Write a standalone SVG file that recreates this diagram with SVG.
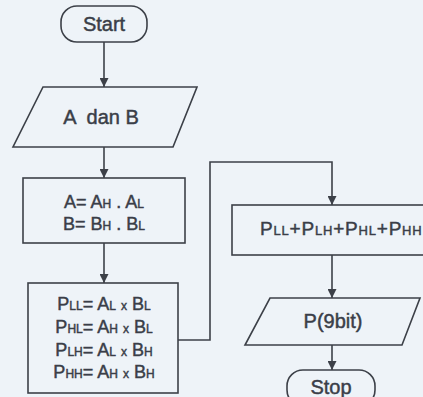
<svg xmlns="http://www.w3.org/2000/svg" width="423" height="397" viewBox="0 0 423 397">
<style>
.s{fill:none;stroke:#3c4048;stroke-width:1.6}
.t{font-family:"Liberation Sans",Arial,sans-serif;fill:#3a3e48;stroke:#3a3e48;stroke-width:0.45}
.c{stroke:#3c4048;stroke-width:1.6;fill:none}
.sub{font-size:12px}
</style>
<defs>
<marker id="ah" viewBox="0 0 10 10" refX="10" refY="5" markerWidth="9" markerHeight="9" markerUnits="userSpaceOnUse" orient="auto">
<path d="M0,0 L10,5 L0,10 Z" fill="#3c4048"/>
</marker>
</defs>
<rect width="423" height="397" fill="#eef3f8"/>
<g id="connectors">
<line class="c" x1="104" y1="42" x2="104" y2="87" marker-end="url(#ah)"/>
<line class="c" x1="104" y1="147" x2="104" y2="178" marker-end="url(#ah)"/>
<line class="c" x1="104" y1="243" x2="104" y2="283" marker-end="url(#ah)"/>
<polyline class="c" points="178,340 210,340 210,162 332,162 332,205" marker-end="url(#ah)"/>
<line class="c" x1="332" y1="255" x2="332" y2="298" marker-end="url(#ah)"/>
<line class="c" x1="332" y1="345" x2="332" y2="370" marker-end="url(#ah)"/>
</g>
<g id="start">
<rect class="s" x="61" y="6" width="86" height="36" rx="16"/>
<text class="t" x="104" y="31" font-size="20" text-anchor="middle">Start</text>
</g>
<g id="input">
<polygon class="s" points="43,87 197,87 173,147 13,147"/>
<text class="t" x="101" y="124" font-size="20" text-anchor="middle" xml:space="preserve">A  dan B</text>
</g>
<g id="split">
<rect class="s" x="23" y="178" width="162" height="65"/>
<text class="t" x="104" y="208" font-size="18" text-anchor="middle">A= A<tspan class="sub">H</tspan> . A<tspan class="sub">L</tspan></text>
<text class="t" x="104" y="230" font-size="18" text-anchor="middle">B= B<tspan class="sub">H</tspan> . B<tspan class="sub">L</tspan></text>
</g>
<g id="products">
<rect class="s" x="28" y="283" width="150" height="110"/>
<text class="t" x="104" y="310" font-size="18" text-anchor="middle">P<tspan class="sub">LL</tspan>= A<tspan class="sub">L</tspan> <tspan class="sub">x</tspan> B<tspan class="sub">L</tspan></text>
<text class="t" x="104" y="333" font-size="18" text-anchor="middle">P<tspan class="sub">HL</tspan>= A<tspan class="sub">H</tspan> <tspan class="sub">x</tspan> B<tspan class="sub">L</tspan></text>
<text class="t" x="104" y="356" font-size="18" text-anchor="middle">P<tspan class="sub">LH</tspan>= A<tspan class="sub">L</tspan> <tspan class="sub">x</tspan> B<tspan class="sub">H</tspan></text>
<text class="t" x="104" y="378" font-size="18" text-anchor="middle">P<tspan class="sub">HH</tspan>= A<tspan class="sub">H</tspan> <tspan class="sub">x</tspan> B<tspan class="sub">H</tspan></text>
</g>
<g id="sum">
<rect class="s" x="232" y="205" width="200" height="50"/>
<text class="t" x="260" y="235" font-size="19" letter-spacing="0.8">P<tspan font-size="13">LL</tspan>+P<tspan font-size="13">LH</tspan>+P<tspan font-size="13">HL</tspan>+P<tspan font-size="13">HH</tspan></text>
</g>
<g id="output">
<polygon class="s" points="270,298 420,298 402,345 245,345"/>
<text class="t" x="333" y="328" font-size="20" text-anchor="middle">P(9bit)</text>
</g>
<g id="stop">
<rect class="s" x="287" y="370" width="88" height="36" rx="16"/>
<text class="t" x="331" y="394" font-size="20" text-anchor="middle">Stop</text>
</g>
</svg>
